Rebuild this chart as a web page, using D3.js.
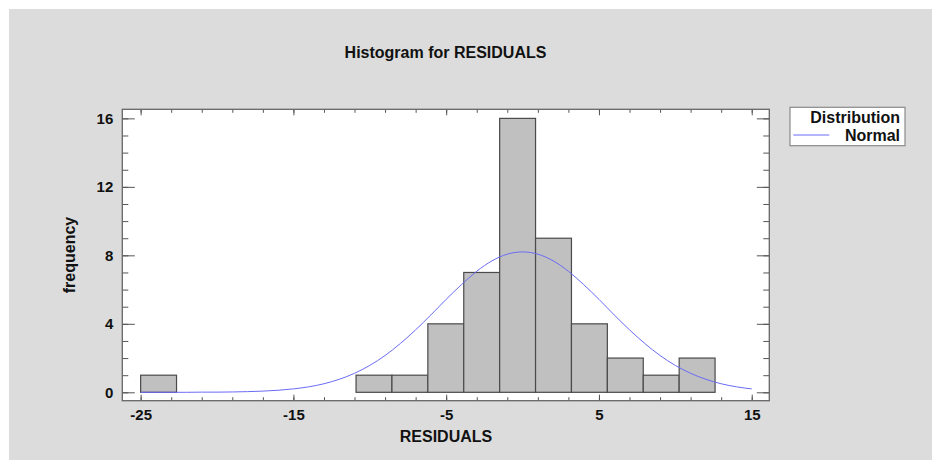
<!DOCTYPE html>
<html>
<head>
<meta charset="utf-8">
<script src="https://cdn.jsdelivr.net/npm/d3@7/dist/d3.min.js"></script>
<style>
  html, body { margin: 0; padding: 0; background: #ffffff; }
  svg { display: block; }
  text { font-family: "Liberation Sans", Arial, sans-serif; font-weight: bold; fill: #111; }
</style>
</head>
<body>
<svg id="chart" width="932" height="460"></svg>
<script>
// Histogram class limits and frequencies
const binEdges = [-25, -22.65, -20.3, -17.95, -15.6, -13.25, -10.9, -8.55, -6.2, -3.85, -1.5, 0.85, 3.2, 5.55, 7.9, 10.25, 12.6];
const binCounts = [1, 0, 0, 0, 0, 0, 1, 1, 4, 7, 16, 9, 4, 2, 1, 2];

// Fitted normal distribution, sampled along the residual axis
const normalX = [-25, -24, -23, -22, -21, -20, -19, -18, -17, -16, -15, -14, -13, -12, -11, -10, -9, -8, -7, -6, -5, -4, -3, -2, -1, 0, 1, 2, 3, 4, 5, 6, 7, 8, 9, 10, 11, 12, 13, 14, 15];
const normalY = [0.00, 0.00, 0.00, 0.00, 0.01, 0.01, 0.02, 0.04, 0.07, 0.12, 0.20, 0.32, 0.50, 0.76, 1.11, 1.57, 2.15, 2.85, 3.65, 4.52, 5.43, 6.29, 7.07, 7.68, 8.07, 8.20, 8.07, 7.68, 7.07, 6.29, 5.43, 4.52, 3.65, 2.85, 2.15, 1.57, 1.11, 0.76, 0.50, 0.32, 0.20];

// Axis ticks
const xMajorTicks = [-25, -15, -5, 5, 15];
const xMinorTicks = [-25, -23, -21, -19, -17, -15, -13, -11, -9, -7, -5, -3, -1, 1, 3, 5, 7, 9, 11, 13, 15];
const yMajorTicks = [0, 4, 8, 12, 16];
const yMinorTicks = [0, 1, 2, 3, 4, 5, 6, 7, 8, 9, 10, 11, 12, 13, 14, 15, 16];

const titleText = "Histogram for RESIDUALS";
const xLabel = "RESIDUALS";
const yLabel = "frequency";
const legendTitle = "Distribution";
const legendItems = ["Normal"];

const svg = d3.select("#chart");

// Panel background
svg.append("rect")
  .attr("x", 9).attr("y", 9)
  .attr("width", 932 - 9).attr("height", 460 - 9)
  .attr("fill", "#dcdcdc");

const plot = { left: 122.3, right: 769.3, top: 109.3, bottom: 400.7 };

const x = d3.scaleLinear().domain([-26.2, 16.15]).range([plot.left, plot.right]);
const y = d3.scaleLinear().domain([-0.49, 16.53]).range([plot.bottom, plot.top]);

// Plain hyphen-minus for negative tick labels
const fmt = d => String(d);

// Plot area
svg.append("rect")
  .attr("x", plot.left).attr("y", plot.top)
  .attr("width", plot.right - plot.left).attr("height", plot.bottom - plot.top)
  .attr("fill", "#ffffff");

// Bars
const bins = binCounts.map((c, i) => ({ x0: binEdges[i], x1: binEdges[i + 1], count: c }))
  .filter(d => d.count > 0);

svg.append("g").selectAll("rect")
  .data(bins)
  .join("rect")
  .attr("x", d => x(d.x0))
  .attr("y", d => y(d.count))
  .attr("width", d => x(d.x1) - x(d.x0))
  .attr("height", d => y(0) - y(d.count))
  .attr("fill", "#c0c0c0")
  .attr("stroke", "#4a4a4a")
  .attr("stroke-width", 1.2);

// Normal curve
const line = d3.line()
  .x((d, i) => x(normalX[i]))
  .y(d => y(d))
  .curve(d3.curveMonotoneX);

svg.append("path")
  .datum(normalY)
  .attr("d", line)
  .attr("fill", "none")
  .attr("stroke", "#6b6bf5")
  .attr("stroke-width", 1);

// Axes: inward ticks on all four sides
function styleAxis(g) {
  g.select(".domain").remove();
  g.selectAll(".tick line").attr("stroke", "#555").attr("stroke-width", 1);
}

svg.append("g")
  .attr("transform", `translate(0,${plot.bottom})`)
  .call(d3.axisBottom(x).tickValues(xMinorTicks).tickSize(-3.5).tickFormat(""))
  .call(styleAxis);
svg.append("g")
  .attr("transform", `translate(0,${plot.bottom})`)
  .call(d3.axisBottom(x).tickValues(xMajorTicks).tickSize(-6).tickPadding(9).tickFormat(fmt))
  .call(styleAxis)
  .call(g => g.selectAll("text").attr("font-size", 15).attr("fill", "#111"));
svg.append("g")
  .attr("transform", `translate(0,${plot.top})`)
  .call(d3.axisTop(x).tickValues(xMinorTicks).tickSize(-3.5).tickFormat(""))
  .call(styleAxis);
svg.append("g")
  .attr("transform", `translate(0,${plot.top})`)
  .call(d3.axisTop(x).tickValues(xMajorTicks).tickSize(-6).tickFormat(""))
  .call(styleAxis);

svg.append("g")
  .attr("transform", `translate(${plot.left},0)`)
  .call(d3.axisLeft(y).tickValues(yMinorTicks).tickSize(-6).tickFormat(""))
  .call(styleAxis);
svg.append("g")
  .attr("transform", `translate(${plot.left},0)`)
  .call(d3.axisLeft(y).tickValues(yMajorTicks).tickSize(-12.5).tickPadding(9).tickFormat(fmt))
  .call(styleAxis)
  .call(g => g.selectAll("text").attr("font-size", 15).attr("fill", "#111"));
svg.append("g")
  .attr("transform", `translate(${plot.right},0)`)
  .call(d3.axisRight(y).tickValues(yMinorTicks).tickSize(-6).tickFormat(""))
  .call(styleAxis);
svg.append("g")
  .attr("transform", `translate(${plot.right},0)`)
  .call(d3.axisRight(y).tickValues(yMajorTicks).tickSize(-12.5).tickFormat(""))
  .call(styleAxis);

// Frame
svg.append("rect")
  .attr("x", plot.left).attr("y", plot.top)
  .attr("width", plot.right - plot.left).attr("height", plot.bottom - plot.top)
  .attr("fill", "none")
  .attr("stroke", "#666")
  .attr("stroke-width", 1.3);

// Titles
svg.append("text")
  .attr("x", 445.5).attr("y", 57.5)
  .attr("text-anchor", "middle")
  .attr("font-size", 16)
  .text(titleText);

svg.append("text")
  .attr("x", 446).attr("y", 442)
  .attr("text-anchor", "middle")
  .attr("font-size", 16)
  .text(xLabel);

svg.append("text")
  .attr("transform", "translate(75,255) rotate(-90)")
  .attr("text-anchor", "middle")
  .attr("font-size", 16)
  .text(yLabel);

// Legend
const legend = svg.append("g");
legend.append("rect")
  .attr("x", 790).attr("y", 107.3)
  .attr("width", 115).attr("height", 38.4)
  .attr("fill", "#ffffff")
  .attr("stroke", "#8a8a8a")
  .attr("stroke-width", 1.2);
legend.append("text")
  .attr("x", 900).attr("y", 123.3)
  .attr("text-anchor", "end")
  .attr("font-size", 16)
  .text(legendTitle);
legendItems.forEach((name, i) => {
  legend.append("line")
    .attr("x1", 793.3).attr("x2", 829.3)
    .attr("y1", 135 + i * 17).attr("y2", 135 + i * 17)
    .attr("stroke", "#6b6bf5")
    .attr("stroke-width", 1);
  legend.append("text")
    .attr("x", 900).attr("y", 140.7 + i * 17)
    .attr("text-anchor", "end")
    .attr("font-size", 16)
    .text(name);
});
</script>
</body>
</html>
